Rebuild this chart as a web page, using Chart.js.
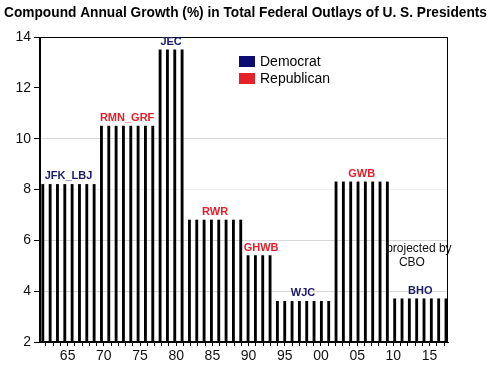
<!DOCTYPE html>
<html>
<head>
<meta charset="utf-8">
<script src="https://cdn.jsdelivr.net/npm/chart.js@4"></script>
<style>
  html, body { margin: 0; padding: 0; background: #fff; }
</style>
</head>
<body>
<canvas id="chart" width="493" height="371"></canvas>
<script>
// fiscal years, one bar each
const years = [1962, 1963, 1964, 1965, 1966, 1967, 1968, 1969,
  1970, 1971, 1972, 1973, 1974, 1975, 1976, 1977,
  1978, 1979, 1980, 1981,
  1982, 1983, 1984, 1985, 1986, 1987, 1988, 1989,
  1990, 1991, 1992, 1993,
  1994, 1995, 1996, 1997, 1998, 1999, 2000, 2001,
  2002, 2003, 2004, 2005, 2006, 2007, 2008, 2009,
  2010, 2011, 2012, 2013, 2014, 2015, 2016, 2017];

// compound annual growth (%) of the president in office that year
const growth = [8.2, 8.2, 8.2, 8.2, 8.2, 8.2, 8.2, 8.2,
  10.5, 10.5, 10.5, 10.5, 10.5, 10.5, 10.5, 10.5,
  13.5, 13.5, 13.5, 13.5,
  6.8, 6.8, 6.8, 6.8, 6.8, 6.8, 6.8, 6.8,
  5.4, 5.4, 5.4, 5.4,
  3.6, 3.6, 3.6, 3.6, 3.6, 3.6, 3.6, 3.6,
  8.3, 8.3, 8.3, 8.3, 8.3, 8.3, 8.3, 8.3,
  3.7, 3.7, 3.7, 3.7, 3.7, 3.7, 3.7, 3.7];

const presidents = ['JFK_LBJ', 'RMN_GRF', 'JEC', 'RWR', 'GHWB', 'WJC', 'GWB', 'BHO'];
const parties = ['Democrat', 'Republican', 'Democrat', 'Republican', 'Republican', 'Democrat', 'Republican', 'Democrat'];
const termFirst = [1962, 1970, 1978, 1982, 1990, 1994, 2002, 2010];
const termLast = [1969, 1977, 1981, 1989, 1993, 2001, 2009, 2017];

const yTicks = [2, 4, 6, 8, 10, 12, 14];
const legendLabels = ['Democrat', 'Republican'];

const partyColor = { Democrat: '#1b1b68', Republican: '#e3202a' };
const legendColor = { Democrat: '#0c0c72', Republican: '#e5222a' };
const FONT = '"Liberation Sans", Arial, sans-serif';

const titleText = 'Compound Annual Growth (%) in Total Federal Outlays of U. S. Presidents';

const titlePlugin = {
  id: 'titleText',
  afterDraw(chart) {
    const ctx = chart.ctx;
    ctx.save();
    ctx.font = 'bold 15px ' + FONT;
    ctx.fillStyle = '#000';
    ctx.textBaseline = 'middle';
    const w = ctx.measureText(titleText).width;
    ctx.translate(4, 13);
    ctx.scale(483 / w, 1);
    ctx.fillText(titleText, 0, 0);
    ctx.restore();
  }
};

const framePlugin = {
  id: 'frame',
  afterDatasetsDraw(chart) {
    const a = chart.chartArea;
    const ctx = chart.ctx;
    ctx.save();
    ctx.strokeStyle = '#000';
    ctx.lineWidth = 1;
    ctx.strokeRect(Math.round(a.left) - 0.5, Math.round(a.top) + 0.5,
      Math.round(a.right - a.left), Math.round(a.bottom - a.top) - 1);
    ctx.restore();
  }
};

const notesPlugin = {
  id: 'notes',
  afterDraw(chart) {
    const ctx = chart.ctx;
    const xs = chart.scales.xb;
    const ys = chart.scales.y;
    ctx.save();
    ctx.textAlign = 'center';
    ctx.textBaseline = 'middle';
    ctx.font = 'bold 11px ' + FONT;
    presidents.forEach((p, i) => {
      const cx = (xs.getPixelForValue(termFirst[i]) + xs.getPixelForValue(termLast[i])) / 2;
      const top = ys.getPixelForValue(growth[years.indexOf(termFirst[i])]);
      ctx.fillStyle = partyColor[parties[i]];
      ctx.fillText(p, cx + (i === 4 ? 2 : 0), top - 8);
    });

    ctx.font = '12px ' + FONT;
    ctx.fillStyle = '#111';
    ctx.fillText('projected by', xs.getPixelForValue(2013.3), ys.getPixelForValue(5.67));
    ctx.fillText('CBO', xs.getPixelForValue(2012.35), ys.getPixelForValue(5.12));

    // legend
    ctx.textAlign = 'left';
    ctx.font = '14px ' + FONT;
    legendLabels.forEach((l, i) => {
      const y = 56 + i * 17;
      ctx.fillStyle = legendColor[l];
      ctx.fillRect(239, y, 16, 11);
      ctx.fillStyle = '#000';
      ctx.fillText(l, 260, y + 6);
    });
    ctx.restore();
  }
};

const ctx = document.getElementById('chart').getContext('2d');
new Chart(ctx, {
  type: 'bar',
  data: {
    datasets: [{
      data: years.map((yr, i) => ({ x: yr, y: growth[i] })),
      backgroundColor: '#000',
      barThickness: 2.2,
      xAxisID: 'xb',
      yAxisID: 'y'
    }]
  },
  options: {
    responsive: false,
    animation: false,
    layout: { padding: { left: 0, right: 45, top: 37, bottom: 0 } },
    plugins: { legend: { display: false }, tooltip: { enabled: false }, title: { display: false } },
    scales: {
      xb: {
        type: 'linear',
        display: false,
        offset: false,
        min: 1961.617,
        max: 2017.273
      },
      x: {
        type: 'linear',
        position: 'bottom',
        offset: false,
        min: 1961.18,
        max: 2017.55,
        afterBuildTicks: s => { s.ticks = years.map(v => ({ value: v })); },
        afterFit: s => { s.height = 29; },
        grid: { offset: false, drawOnChartArea: false, drawTicks: true, tickLength: 4, tickColor: '#000' },
        border: { display: true, color: '#000' },
        ticks: {
          autoSkip: false,
          maxRotation: 0,
          padding: 2,
          color: '#111',
          font: { family: FONT, size: 14 },
          callback: v => (v % 5 === 0 ? String(v).slice(2) : '')
        }
      },
      y: {
        type: 'linear',
        min: 2,
        max: 14,
        afterBuildTicks: s => { s.ticks = yTicks.map(v => ({ value: v })); },
        afterFit: s => { s.width = 40; },
        grid: {
          color: c => {
            const v = c.tick ? c.tick.value : 0;
            if (v === 4 || v === 6 || v === 10) return '#d8d8d8';
            if (v === 8) return '#f0f0f0';
            return 'rgba(0,0,0,0)';
          },
          tickColor: '#000',
          tickLength: 6
        },
        border: { display: true, color: '#000' },
        ticks: {
          padding: 3,
          color: '#111',
          font: { family: FONT, size: 14 }
        }
      }
    }
  },
  plugins: [titlePlugin, framePlugin, notesPlugin]
});
</script>
</body>
</html>
